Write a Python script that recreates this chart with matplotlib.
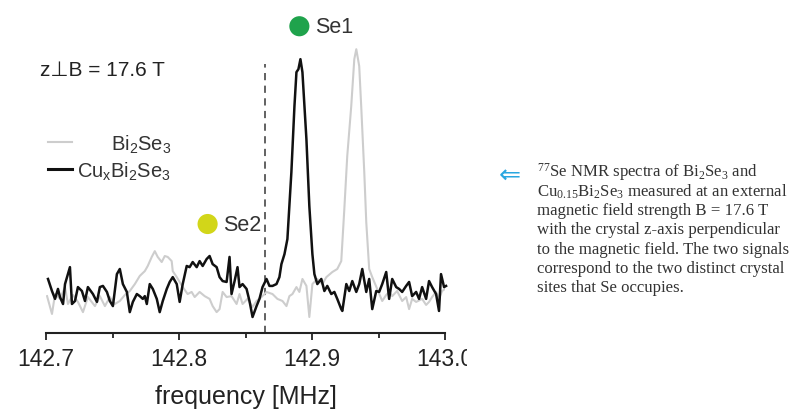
import numpy as np
import matplotlib
matplotlib.use("Agg")
import matplotlib.pyplot as plt
from matplotlib.lines import Line2D
from matplotlib.transforms import Bbox, TransformedBbox

plt.rcParams['font.family'] = ['Liberation Sans', 'DejaVu Sans']
plt.rcParams['mathtext.default'] = 'regular'

# 77Se NMR spectra, frequency in MHz, intensity normalised to the Se1 peak (a.u.)
freq_cu = [142.7015, 142.7045, 142.7068, 142.709, 142.7105, 142.7128, 142.7143, 142.718,
           142.7195, 142.7218, 142.724, 142.727, 142.7293, 142.7315, 142.7353, 142.7383,
           142.7405, 142.7428, 142.7458, 142.748, 142.7503, 142.7533, 142.7555, 142.7578,
           142.7608, 142.763, 142.7653, 142.7683, 142.7705, 142.7728, 142.7743, 142.7758,
           142.778, 142.7803, 142.7833, 142.7855, 142.7878, 142.7908, 142.793, 142.7953,
           142.7983, 142.8005, 142.8028, 142.8058, 142.808, 142.8103, 142.8133, 142.8155,
           142.8178, 142.8208, 142.823, 142.8253, 142.8283, 142.8305, 142.8328, 142.8358,
           142.838, 142.8395, 142.8418, 142.844, 142.8455, 142.8478, 142.8508, 142.853,
           142.8553, 142.8583, 142.8605, 142.8628, 142.8658, 142.868, 142.8703, 142.8733,
           142.8755, 142.877, 142.8793, 142.8815, 142.8845, 142.8868, 142.8883, 142.8898,
           142.8913, 142.8928, 142.8958, 142.898, 142.9003, 142.9018, 142.904, 142.907,
           142.9093, 142.9115, 142.9145, 142.9168, 142.919, 142.922, 142.9228, 142.9258,
           142.928, 142.9303, 142.9333, 142.9355, 142.9378, 142.9408, 142.943, 142.9453,
           142.9483, 142.9505, 142.9528, 142.9558, 142.958, 142.9603, 142.9633, 142.9655,
           142.9678, 142.9708, 142.973, 142.9753, 142.9783, 142.9805, 142.9828, 142.9858,
           142.988, 142.9903, 142.9933, 142.9955, 142.997, 142.9993, 143.0008]
int_cu = [5.2, 0.0, -3.4, 0.9, -2.6, -5.6, 3.0, 10.3,
          -5.6, -4.3, 1.7, 0.0, -4.3, 1.7, -1.3, -4.7,
          1.7, 2.2, -0.4, -4.3, -6.5, 7.3, 9.5, 3.0,
          -0.4, -9.1, -4.7, -1.3, -2.2, -3.4, -2.2, -5.6,
          3.0, 0.9, -3.4, -9.1, -4.3, 0.9, 3.9, 6.0,
          3.0, -4.7, 3.0, 10.8, 10.3, 12.5, 10.3, 12.9,
          10.8, 13.8, 15.1, 11.6, 10.3, 6.0, 4.3, 3.9,
          14.7, -1.3, 4.3, 10.3, 1.7, 3.0, 0.9, -4.3,
          -11.2, -6.5, -3.4, 1.7, 5.2, 2.2, 2.2, 3.0,
          6.0, 11.6, 15.9, 22.4, 51.3, 79.7, 94.4, 95.7,
          100.0, 94.4, 65.5, 36.6, 15.9, 7.3, 3.0, 5.2,
          0.0, 2.2, -1.3, -0.4, -3.4, -7.8, -8.6, 3.0,
          0.0, 4.3, -0.4, 3.0, 9.5, -0.4, 5.2, -7.8,
          0.0, -0.4, 3.0, 8.2, -3.4, 5.2, 1.7, 0.9,
          -0.4, 2.2, 3.9, -2.2, -0.4, -3.4, 1.7, -3.4,
          4.3, 1.7, -1.3, -8.6, 7.3, 1.7, 2.2]

freq_bi = [142.7008, 142.7045, 142.7068, 142.7105, 142.7143, 142.7165, 142.7203, 142.724,
           142.7278, 142.7315, 142.7368, 142.7405, 142.7443, 142.748, 142.7518, 142.7555,
           142.7593, 142.763, 142.7668, 142.7705, 142.7743, 142.7765, 142.7795, 142.7818,
           142.784, 142.787, 142.7893, 142.7915, 142.7945, 142.7953, 142.7983, 142.8028,
           142.8065, 142.8095, 142.8118, 142.8155, 142.8193, 142.823, 142.8253, 142.8283,
           142.8305, 142.8328, 142.8358, 142.8395, 142.8433, 142.8455, 142.8478, 142.8515,
           142.8553, 142.8583, 142.862, 142.8658, 142.8703, 142.874, 142.8778, 142.8808,
           142.883, 142.8853, 142.8883, 142.8905, 142.8928, 142.8958, 142.898, 142.9003,
           142.904, 142.9078, 142.9108, 142.9153, 142.919, 142.922, 142.9243, 142.9265,
           142.9295, 142.9318, 142.9333, 142.9355, 142.937, 142.9393, 142.9408, 142.943,
           142.9453, 142.949, 142.9528, 142.9558, 142.958, 142.9603, 142.964, 142.9678,
           142.9708, 142.973, 142.9753, 142.9783, 142.9828, 142.9858, 142.988, 142.9903,
           142.9933, 142.9955, 142.9978, 143.0]
int_bi = [-2.2, -9.9, -1.3, -3.4, 1.7, -5.6, -1.7, -4.7,
          -9.1, -2.6, -6.5, -2.2, -6.5, -2.6, -5.6, -4.3,
          -1.7, 0.0, 3.0, 6.5, 8.6, 10.8, 14.7, 17.2,
          14.7, 12.5, 15.1, 14.7, 12.9, 8.6, 6.0, 1.7,
          -1.3, -0.4, -2.6, -0.4, -2.2, -3.4, -6.5, -9.1,
          -7.8, -0.4, -2.6, -2.2, -5.6, -1.3, -5.6, -3.4,
          -6.9, -4.3, -2.6, -0.4, -1.3, -3.4, -4.3, -6.5,
          -2.2, -1.3, 1.7, -0.4, 5.2, 2.2, -11.2, 3.0,
          5.2, 3.0, 6.0, 8.2, 9.5, 12.9, 35.3, 58.2,
          79.7, 100.0, 104.3, 97.0, 79.7, 51.3, 29.7, 9.5,
          6.0, 0.9, -4.3, -1.7, -0.4, -2.2, 0.0, -4.3,
          -2.6, -7.8, -3.4, -4.7, -3.4, -6.0, -4.7, -2.6,
          -0.4, -3.4, 0.0, 0.9]

# reference frequency (dashed line) and site labels
f_ref = 142.865
sites = ['Se1', 'Se2']
site_freq = [142.8905, 142.8215]
site_int = [114.2, 28.9]
site_colors = ['#1fa34c', '#d2d619']

major_ticks = [142.7, 142.8, 142.9, 143.0]
minor_ticks = [142.75, 142.85, 142.95]
tick_labels = ['142.7', '142.8', '142.9', '143.0']

fig = plt.figure(figsize=(7.98, 4.10), dpi=100)
ax = fig.add_axes([46 / 798, 0.1854, 399 / 798, 0.790])

ax.plot(freq_bi, int_bi, color='#cdcdcd', lw=1.5, zorder=2)
ax.plot(freq_cu, int_cu, color='#111111', lw=1.8, zorder=3, clip_on=False)
ax.vlines(f_ref, -18.1, 97.8, colors='#555555', lw=1.3, linestyles=(0, (4, 3)), zorder=1)

for name, f, y, c in zip(sites, site_freq, site_int, site_colors):
    ax.scatter([f], [y], s=210, color=c, edgecolors='none', zorder=4, clip_on=False)
    ax.text(f + 0.0115, y, name, fontsize=15.5, color='#333333', va='center', ha='left')

ax.set_xlim(142.7, 143.0)
ax.set_ylim(-18.1, 121.6)
ax.set_yticks([])
for s in ['left', 'right', 'top']:
    ax.spines[s].set_visible(False)
ax.spines['bottom'].set_linewidth(1.5)
ax.spines['bottom'].set_color('#222222')
ax.set_xticks(major_ticks)
ax.set_xticklabels(tick_labels)
ax.set_xticks(minor_ticks, minor=True)
ax.tick_params(axis='x', which='major', length=5, width=1.3, labelsize=16.5,
               colors='#222222', pad=5)
ax.tick_params(axis='x', which='minor', length=3.5, width=1.3, colors='#222222')
ax.set_xlabel('frequency [MHz]', fontsize=18, color='#222222', labelpad=10)
ax.patch.set_visible(False)

# last tick label is cut at the panel edge
fig.canvas.draw()
clip = TransformedBbox(Bbox([[0, 0], [467 / 798, 1]]), fig.transFigure)
last = ax.get_xticklabels()[-1]
last.set_clip_box(clip)
last.set_clip_on(True)

fig.text(40 / 798, 1 - 70 / 410, 'z\u22a5B = 17.6 T', fontsize=15, color='#222222',
         va='center', ha='left')

# legend
fig.add_artist(Line2D([48 / 798, 72 / 798], [1 - 143 / 410] * 2, color='#cdcdcd', lw=1.5))
fig.add_artist(Line2D([48 / 798, 72 / 798], [1 - 170 / 410] * 2, color='#111111', lw=2.2))
fig.text(171 / 798, 1 - 145 / 410, 'Bi$_2$Se$_3$', fontsize=14.5, color='#333333',
         va='center', ha='right')
fig.text(171 / 798, 1 - 172 / 410, 'Cu$_x$Bi$_2$Se$_3$', fontsize=14.5, color='#333333',
         va='center', ha='right')

# caption
fig.text(499 / 798, 1 - 176 / 410, '\u21d0', fontsize=19, color='#2aa7e0',
         va='center', ha='left', family=['DejaVu Sans'])
caption = ['$^{77}$Se NMR spectra of Bi$_2$Se$_3$ and',
           'Cu$_{0.15}$Bi$_2$Se$_3$ measured at an external',
           'magnetic field strength B = 17.6 T',
           'with the crystal z-axis perpendicular',
           'to the magnetic field. The two signals',
           'correspond to the two distinct crystal',
           'sites that Se occupies.']
for i, line in enumerate(caption):
    fig.text(537 / 798, 1 - (172 + 19.4 * i) / 410, line, fontsize=12.1, color='#333333',
             va='center', ha='left', family=['Liberation Serif', 'DejaVu Serif'])

fig.savefig('out.png', dpi=100)
